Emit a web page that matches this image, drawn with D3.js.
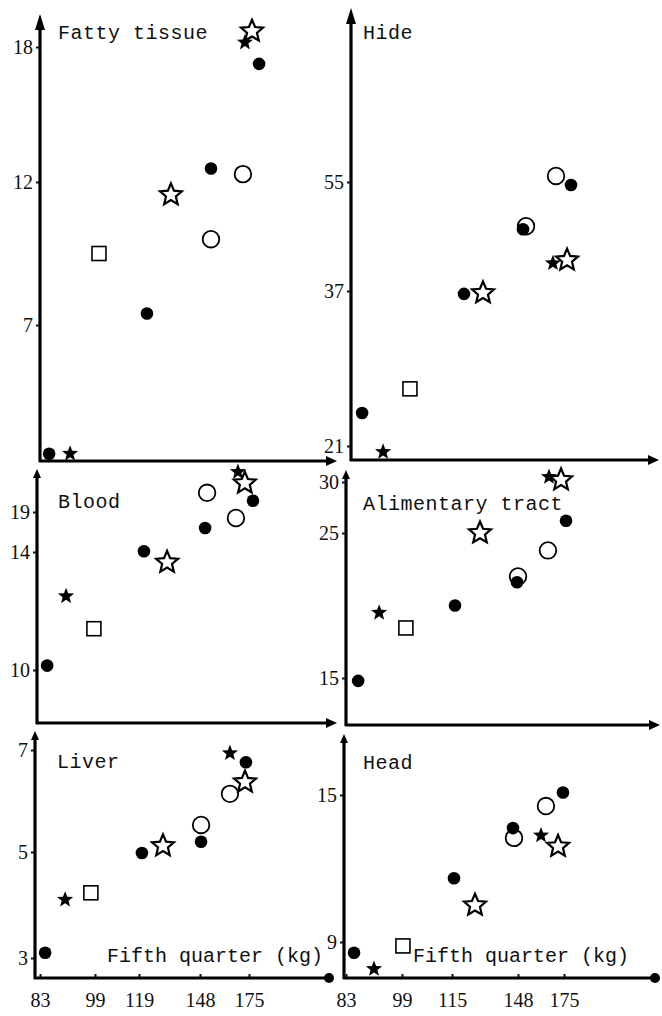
<!DOCTYPE html>
<meta charset="utf-8">
<style>
body { margin: 0; background: #fff; }
.ttl { font-family: "Liberation Mono", monospace; font-size: 20px; letter-spacing: 0.5px; fill: #111; }
.ttl.xl { letter-spacing: 0; }
.num text { font-family: "Liberation Serif", serif; font-size: 20px; fill: #111; }
.num .domain { display: none; }
.num line { stroke: #111; stroke-width: 2; }
</style>
<body>
<script src="https://d3js.org/d3.v7.min.js"></script>
<script>

// animal groups, one marker each (same order in every panel)
var groups = ["A", "B", "C", "D", "E", "F", "G", "H", "I", "J", "K"];
var marker = ["dot", "starFill", "square", "dot", "star", "dot", "ring", "ring", "starFill", "star", "dot"];

var xTicksLeft = [83, 99, 119, 148, 175];
var xTicksRight = [83, 99, 115, 148, 175];

// fifth quarter (kg) and organ weight
var fattyX = [84.2, 90.3, 98.7, 120.4, 131.8, 151.3, 151.3, 168.9, 170.0, 173.9, 177.8];
var fattyY = [2.5, 2.5, 9.5, 7.4, 11.55, 12.6, 10.0, 12.35, 18.2, 18.7, 17.25];
var fattyTicks = [7, 12, 18];

var hideX = [85.6, 91.6, 99.3, 117.5, 127, 147, 148.6, 166.2, 164.4, 172.7, 175];
var hideY = [24.4, 20.4, 26.9, 36.7, 36.8, 47.2, 47.7, 56.0, 41.6, 42.1, 54.5];
var hideTicks = [21, 37, 55];

var bloodX = [84.5, 90.0, 98.1, 120.4, 131.4, 149.7, 150.8, 166.7, 167.8, 171.6, 176.1];
var bloodY = [10.15, 12.5, 11.4, 14.1, 13.65, 17.0, 21.4, 18.25, 24.0, 22.6, 20.4];
var bloodTicks = [10, 14, 19];

var alimX = [85.9, 91.9, 99.6, 115.5, 128, 146.5, 147, 164.4, 165.0, 172.1, 175];
var alimY = [14.8, 19.5, 18.45, 20.0, 25.0, 21.6, 22.0, 23.8, 30.5, 30.2, 26.2];
var alimTicks = [15, 25, 30];

var liverX = [84.5, 90.3, 97.8, 120.4, 130.4, 148.6, 148.6, 164.5, 164.5, 172.8, 173.3];
var liverY = [3.1, 4.1, 4.23, 4.98, 5.12, 5.2, 5.53, 6.14, 6.94, 6.37, 6.76];
var liverTicks = [3, 5, 7];

var headX = [85.3, 91.0, 99.3, 116, 126.5, 145.5, 146, 164.4, 161.5, 171.5, 174.4];
var headY = [8.56, 7.9, 8.84, 11.6, 10.5, 13.65, 13.25, 14.55, 13.35, 12.9, 15.1];
var headTicks = [9, 15];

var xLabel = "Fifth quarter (kg)";

// layout: y axis position, x axis position, axis ends, tick pixel positions
var leftOff = [5, 60, 104, 165, 214];
var rightOff = [2, 58, 108, 174, 220];

var panels = [
  {name: "Fatty tissue", xs: fattyX, ys: fattyY, yTicks: fattyTicks, xTicks: xTicksLeft, off: leftOff,
   ax: 40, ay: 461, top: 14, right: 337, yPix: [325, 182, 47], tx: 58, ty: 39, bottom: false, bigArrow: true},
  {name: "Hide", xs: hideX, ys: hideY, yTicks: hideTicks, xTicks: xTicksRight, off: rightOff,
   ax: 351, ay: 460, top: 8, right: 659, yPix: [446, 291, 182], tx: 363, ty: 39, bottom: false, bigArrow: true},
  {name: "Blood", xs: bloodX, ys: bloodY, yTicks: bloodTicks, xTicks: xTicksLeft, off: leftOff,
   ax: 37, ay: 723, top: 469, right: 337, yPix: [670, 552, 512], tx: 58, ty: 508, bottom: false},
  {name: "Alimentary tract", xs: alimX, ys: alimY, yTicks: alimTicks, xTicks: xTicksRight, off: rightOff,
   ax: 346, ay: 725, top: 470, right: 660, yPix: [678, 533, 482], tx: 363, ty: 510, bottom: false},
  {name: "Liver", xs: liverX, ys: liverY, yTicks: liverTicks, xTicks: xTicksLeft, off: leftOff,
   ax: 35, ay: 978, top: 731, right: 334, yPix: [958, 852, 750], tx: 57, ty: 768, bottom: true, lx: 107},
  {name: "Head", xs: headX, ys: headY, yTicks: headTicks, xTicks: xTicksRight, off: rightOff,
   ax: 344, ay: 978, top: 734, right: 660, yPix: [942, 795], tx: 363, ty: 769, bottom: true, lx: 413}
];

var svg = d3.select("body").append("svg")
    .attr("width", 662)
    .attr("height", 1016);

function starPath(R, r) {
  var pts = [];
  for (var i = 0; i < 10; i++) {
    var a = -Math.PI / 2 + i * Math.PI / 5;
    var rad = i % 2 ? r : R;
    pts.push([rad * Math.cos(a), rad * Math.sin(a)]);
  }
  return "M" + pts.join("L") + "Z";
}

var drawOrder = ["square", "ring", "star", "dot", "starFill"];

panels.forEach(function(p) {
  var x = d3.scaleLinear().domain(p.xTicks).range(p.off.map(function(o) { return p.ax + o; }));
  var y = d3.scaleLinear().domain(p.yTicks).range(p.yPix);

  var g = svg.append("g");

  // axes lines
  g.append("line").attr("x1", p.ax).attr("x2", p.ax).attr("y1", p.ay + 1).attr("y2", p.top + 6)
    .attr("stroke", "#000").attr("stroke-width", 3.2);
  g.append("line").attr("x1", p.ax - 1).attr("x2", p.right - 6).attr("y1", p.ay).attr("y2", p.ay)
    .attr("stroke", "#000").attr("stroke-width", 3.2);

  var ah = p.bigArrow ? 16 : 9, aw = p.bigArrow ? 5 : 4;
  g.append("path")
    .attr("d", "M" + p.ax + "," + p.top + "L" + (p.ax - aw) + "," + (p.top + ah) + "L" + (p.ax + aw) + "," + (p.top + ah) + "Z")
    .attr("fill", "#000");
  if (p.bottom) {
    g.append("circle").attr("cx", p.right - 5).attr("cy", p.ay).attr("r", 5).attr("fill", "#000");
  } else {
    g.append("path")
      .attr("d", "M" + p.right + "," + p.ay + "L" + (p.right - 11) + "," + (p.ay - 5) + "L" + (p.right - 11) + "," + (p.ay + 5) + "Z")
      .attr("fill", "#000");
  }

  // y ticks
  g.append("g").attr("class", "num")
    .attr("transform", "translate(" + (p.ax - 1) + ",0)")
    .call(d3.axisLeft(y).tickValues(p.yTicks).tickSize(3).tickPadding(3).tickFormat(d3.format("d")));

  if (p.bottom) {
    g.append("g").attr("class", "num")
      .attr("transform", "translate(0," + (p.ay - 1) + ")")
      .call(d3.axisBottom(x).tickValues(p.xTicks).tickSize(-3).tickPadding(15).tickFormat(d3.format("d")))
      .selectAll("text").attr("y", 16);
    g.append("text").attr("class", "ttl xl").attr("x", p.lx).attr("y", 962).text(xLabel);
  }

  g.append("text").attr("class", "ttl").attr("x", p.tx).attr("y", p.ty).text(p.name);

  var pts = groups.map(function(d, i) { return {g: d, m: marker[i], x: x(p.xs[i]), y: y(p.ys[i])}; });
  pts.sort(function(a, b) { return drawOrder.indexOf(a.m) - drawOrder.indexOf(b.m); });

  pts.forEach(function(d) {
    var t = "translate(" + d.x + "," + d.y + ")";
    if (d.m === "dot") {
      g.append("circle").attr("transform", t).attr("r", 6.3).attr("fill", "#000");
    } else if (d.m === "ring") {
      g.append("circle").attr("transform", t).attr("r", 8.3).attr("fill", "none")
        .attr("stroke", "#000").attr("stroke-width", 1.8);
    } else if (d.m === "square") {
      g.append("rect").attr("transform", t).attr("x", -7).attr("y", -7).attr("width", 14).attr("height", 14)
        .attr("fill", "none").attr("stroke", "#000").attr("stroke-width", 1.6);
    } else if (d.m === "star") {
      g.append("path").attr("transform", t).attr("d", starPath(11.5, 5.2)).attr("fill", "none")
        .attr("stroke", "#000").attr("stroke-width", 2.2).attr("stroke-linejoin", "miter");
    } else {
      g.append("path").attr("transform", t).attr("d", starPath(8.5, 3.6)).attr("fill", "#000");
    }
  });
});

</script>
</body>
